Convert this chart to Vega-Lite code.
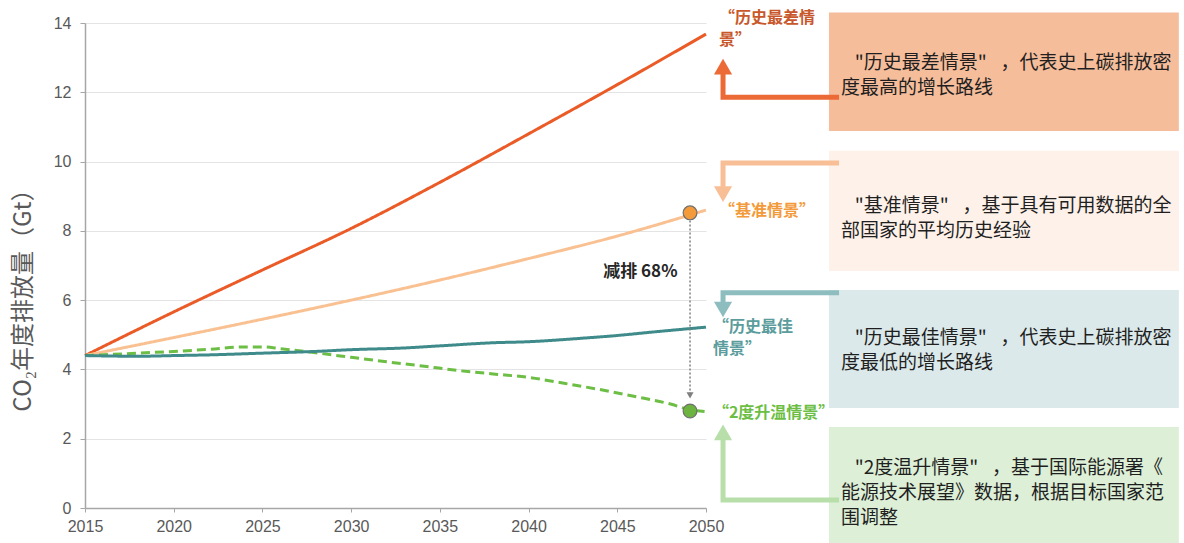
{
  "$schema": "https://vega.github.io/schema/vega-lite/v6.json",
  "width": 621,
  "height": 485,
  "autosize": {"type": "none"},
  "padding": {"left": 85, "top": 23, "right": 478, "bottom": 35},
  "background": "white",
  "config": {"view": {"stroke": null}, "font": "Noto Sans CJK SC"},
  "datasets": {
    "series": [
      {"scenario": "历史最差情景", "year": 2015, "value": 4.4},
      {"scenario": "历史最差情景", "year": 2020, "value": 5.66},
      {"scenario": "历史最差情景", "year": 2025, "value": 6.87},
      {"scenario": "历史最差情景", "year": 2030, "value": 8.07},
      {"scenario": "历史最差情景", "year": 2035, "value": 9.4},
      {"scenario": "历史最差情景", "year": 2040, "value": 10.8},
      {"scenario": "历史最差情景", "year": 2045, "value": 12.22},
      {"scenario": "历史最差情景", "year": 2050, "value": 13.68},
      {"scenario": "基准情景", "year": 2015, "value": 4.4},
      {"scenario": "基准情景", "year": 2020, "value": 4.92},
      {"scenario": "基准情景", "year": 2025, "value": 5.45},
      {"scenario": "基准情景", "year": 2030, "value": 6.0},
      {"scenario": "基准情景", "year": 2035, "value": 6.58},
      {"scenario": "基准情景", "year": 2040, "value": 7.2},
      {"scenario": "基准情景", "year": 2045, "value": 7.85},
      {"scenario": "基准情景", "year": 2050, "value": 8.6},
      {"scenario": "2度升温情景", "year": 2015, "value": 4.4},
      {"scenario": "2度升温情景", "year": 2018, "value": 4.47},
      {"scenario": "2度升温情景", "year": 2020, "value": 4.52},
      {"scenario": "2度升温情景", "year": 2022, "value": 4.58},
      {"scenario": "2度升温情景", "year": 2024, "value": 4.65},
      {"scenario": "2度升温情景", "year": 2025, "value": 4.65},
      {"scenario": "2度升温情景", "year": 2026, "value": 4.6},
      {"scenario": "2度升温情景", "year": 2028, "value": 4.48},
      {"scenario": "2度升温情景", "year": 2030, "value": 4.35},
      {"scenario": "2度升温情景", "year": 2032, "value": 4.22},
      {"scenario": "2度升温情景", "year": 2034, "value": 4.1},
      {"scenario": "2度升温情景", "year": 2036, "value": 3.97},
      {"scenario": "2度升温情景", "year": 2038, "value": 3.87},
      {"scenario": "2度升温情景", "year": 2040, "value": 3.77},
      {"scenario": "2度升温情景", "year": 2042, "value": 3.6},
      {"scenario": "2度升温情景", "year": 2044, "value": 3.42},
      {"scenario": "2度升温情景", "year": 2046, "value": 3.22},
      {"scenario": "2度升温情景", "year": 2048, "value": 3.0},
      {"scenario": "2度升温情景", "year": 2049, "value": 2.85},
      {"scenario": "2度升温情景", "year": 2050, "value": 2.78},
      {"scenario": "历史最佳情景", "year": 2015, "value": 4.4},
      {"scenario": "历史最佳情景", "year": 2018, "value": 4.38},
      {"scenario": "历史最佳情景", "year": 2020, "value": 4.4},
      {"scenario": "历史最佳情景", "year": 2022, "value": 4.42},
      {"scenario": "历史最佳情景", "year": 2025, "value": 4.47},
      {"scenario": "历史最佳情景", "year": 2028, "value": 4.52},
      {"scenario": "历史最佳情景", "year": 2030, "value": 4.57},
      {"scenario": "历史最佳情景", "year": 2033, "value": 4.62},
      {"scenario": "历史最佳情景", "year": 2035, "value": 4.68},
      {"scenario": "历史最佳情景", "year": 2038, "value": 4.77},
      {"scenario": "历史最佳情景", "year": 2040, "value": 4.8},
      {"scenario": "历史最佳情景", "year": 2043, "value": 4.9},
      {"scenario": "历史最佳情景", "year": 2045, "value": 4.98},
      {"scenario": "历史最佳情景", "year": 2047, "value": 5.08},
      {"scenario": "历史最佳情景", "year": 2050, "value": 5.22}
    ],
    "boxes": [
      {"id": "b1", "x1": 2056.93, "x2": 2076.65, "y1": 14.30, "y2": 10.88, "fill": "#F6BD9B"},
      {"id": "b2", "x1": 2056.93, "x2": 2076.65, "y1": 10.31, "y2": 6.84, "fill": "#FDF1E9"},
      {"id": "b3", "x1": 2056.93, "x2": 2076.65, "y1": 6.29, "y2": 2.89, "fill": "#DCE9EA"},
      {"id": "b4", "x1": 2056.93, "x2": 2076.65, "y1": 2.34, "y2": -1.01, "fill": "#DDEFD6"}
    ],
    "arrows": [
      {"id": "a1", "ord": 1, "x": 2057.5, "y": 11.86, "c": "#EC6A35"},
      {"id": "a1", "ord": 2, "x": 2050.96, "y": 11.86, "c": "#EC6A35"},
      {"id": "a1", "ord": 3, "x": 2050.96, "y": 12.6, "c": "#EC6A35"},
      {"id": "a2", "ord": 1, "x": 2057.5, "y": 9.96, "c": "#F8BE96"},
      {"id": "a2", "ord": 2, "x": 2050.96, "y": 9.96, "c": "#F8BE96"},
      {"id": "a2", "ord": 3, "x": 2050.96, "y": 9.2, "c": "#F8BE96"},
      {"id": "a3", "ord": 1, "x": 2057.5, "y": 6.21, "c": "#8DBDBF"},
      {"id": "a3", "ord": 2, "x": 2050.96, "y": 6.21, "c": "#8DBDBF"},
      {"id": "a3", "ord": 3, "x": 2050.96, "y": 5.85, "c": "#8DBDBF"},
      {"id": "a4", "ord": 1, "x": 2057.5, "y": 0.23, "c": "#B8DFAA"},
      {"id": "a4", "ord": 2, "x": 2050.96, "y": 0.23, "c": "#B8DFAA"},
      {"id": "a4", "ord": 3, "x": 2050.96, "y": 2.0, "c": "#B8DFAA"}
    ],
    "heads": [
      {"id": "a1", "x": 2050.96, "y": 12.74, "shape": "triangle-up", "c": "#EC6A35"},
      {"id": "a2", "x": 2050.96, "y": 9.06, "shape": "triangle-down", "c": "#F8BE96"},
      {"id": "a3", "x": 2050.96, "y": 5.73, "shape": "triangle-down", "c": "#8DBDBF"},
      {"id": "a4", "x": 2050.96, "y": 2.18, "shape": "triangle-up", "c": "#B8DFAA"}
    ],
    "reduction": [
      {"year": 2049.1, "from": 8.3, "to": 3.25, "label": "减排 68%", "labelYear": 2046.3, "labelValue": 6.81}
    ],
    "markers": [
      {"scenario": "基准情景", "year": 2049.1, "value": 8.52, "fill": "#F39A3A"},
      {"scenario": "2度升温情景", "year": 2049.1, "value": 2.8, "fill": "#6DB33F"}
    ],
    "lineLabels": [
      {"text": "“历史最差情\n景”", "x": 2050.73, "y": 14.14, "c": "#C8582B"},
      {"text": "“基准情景”", "x": 2050.73, "y": 8.57, "c": "#F39A3A"},
      {"text": "“历史最佳\n情景”", "x": 2050.39, "y": 5.22, "c": "#5B9C9C"},
      {"text": "“2度升温情景”", "x": 2050.39, "y": 2.74, "c": "#6DBE45"}
    ],
    "boxTexts": [
      {"text": "\u200b\u2002\u00a0\"历史最差情景\"\u2002\u00a0，代表史上碳排放密\n度最高的增长路线", "x": 2057.61, "y": 12.85},
      {"text": "\u200b\u2002\u00a0\"基准情景\"\u2002\u00a0，基于具有可用数据的全\n部国家的平均历史经验", "x": 2057.61, "y": 8.72},
      {"text": "\u200b\u2002\u00a0\"历史最佳情景\"\u2002\u00a0，代表史上碳排放密\n度最低的增长路线", "x": 2057.61, "y": 4.91},
      {"text": "\u200b\u2002\u00a0\"2度温升情景\"\u2002\u00a0，基于国际能源署《\n能源技术展望》数据，根据目标国家范\n围调整", "x": 2057.61, "y": 1.15}
    ]
  },
  "layer": [
    {
      "data": {"name": "series"},
      "mark": {"type": "line", "strokeWidth": 3, "interpolate": "monotone", "clip": false},
      "encoding": {
        "x": {
          "field": "year", "type": "quantitative",
          "scale": {"domain": [2015, 2050], "nice": false, "zero": false},
          "axis": {
            "title": null, "values": [2015, 2020, 2025, 2030, 2035, 2040, 2045, 2050],
            "format": "d", "grid": false, "labelFont": "Liberation Sans", "labelFontSize": 16,
            "labelColor": "#595959", "labelPadding": 6, "tickSize": 4, "tickColor": "#A6A6A6",
            "domainColor": "#A6A6A6", "domainWidth": 1.5, "labelFlush": false
          }
        },
        "y": {
          "field": "value", "type": "quantitative",
          "scale": {"domain": [0, 14], "nice": false},
          "axis": {
            "title": "CO₂年度排放量（Gt）", "values": [0, 2, 4, 6, 8, 10, 12, 14],
            "titleFont": "Noto Sans CJK SC", "titleFontSize": 24, "titleFontWeight": "normal",
            "titleColor": "#595959", "titleX": -62, "titleY": 271, "titleAlign": "center",
            "titleBaseline": "middle", "titleAngle": -90,
            "labelFont": "Liberation Sans", "labelFontSize": 16, "labelColor": "#595959",
            "labelPadding": 9, "tickSize": 5, "tickColor": "#A6A6A6",
            "domainColor": "#A6A6A6", "domainWidth": 1.5,
            "grid": true, "gridColor": "#E4E4E4", "gridWidth": 1
          }
        },
        "color": {
          "field": "scenario", "type": "nominal", "legend": null,
          "scale": {
            "domain": ["历史最差情景", "基准情景", "2度升温情景", "历史最佳情景"],
            "range": ["#EB5B27", "#F9C192", "#6DBE45", "#3F8A8A"]
          }
        },
        "strokeDash": {
          "field": "scenario", "type": "nominal", "legend": null,
          "scale": {
            "domain": ["历史最差情景", "基准情景", "2度升温情景", "历史最佳情景"],
            "range": [[1, 0], [1, 0], [9, 5], [1, 0]]
          }
        },
        "order": {"field": "year", "type": "quantitative"}
      }
    },
    {
      "data": {"name": "boxes"},
      "mark": {"type": "rect", "clip": false},
      "encoding": {
        "x": {"field": "x1", "type": "quantitative"},
        "x2": {"field": "x2"},
        "y": {"field": "y1", "type": "quantitative"},
        "y2": {"field": "y2"},
        "fill": {"field": "fill", "type": "nominal", "scale": null, "legend": null}
      }
    },
    {
      "data": {"name": "arrows"},
      "mark": {"type": "line", "strokeWidth": 5, "strokeCap": "butt", "strokeJoin": "miter", "clip": false},
      "encoding": {
        "x": {"field": "x", "type": "quantitative"},
        "y": {"field": "y", "type": "quantitative"},
        "detail": {"field": "id"},
        "order": {"field": "ord", "type": "quantitative"},
        "stroke": {"field": "c", "type": "nominal", "scale": null, "legend": null}
      }
    },
    {
      "data": {"name": "heads"},
      "mark": {"type": "point", "filled": true, "opacity": 1, "size": 330, "clip": false},
      "encoding": {
        "x": {"field": "x", "type": "quantitative"},
        "y": {"field": "y", "type": "quantitative"},
        "shape": {"field": "shape", "type": "nominal", "scale": null, "legend": null},
        "fill": {"field": "c", "type": "nominal", "scale": null, "legend": null}
      }
    },
    {
      "data": {"name": "reduction"},
      "mark": {"type": "rule", "color": "#7F7F7F", "strokeWidth": 1.5, "strokeDash": [2, 2], "clip": false},
      "encoding": {
        "x": {"field": "year", "type": "quantitative"},
        "y": {"field": "from", "type": "quantitative"},
        "y2": {"field": "to"}
      }
    },
    {
      "data": {"name": "reduction"},
      "mark": {"type": "point", "shape": "triangle-down", "filled": true, "opacity": 1, "color": "#7F7F7F", "size": 50, "clip": false},
      "encoding": {
        "x": {"field": "year", "type": "quantitative"},
        "y": {"field": "to", "type": "quantitative"}
      }
    },
    {
      "data": {"name": "reduction"},
      "mark": {"type": "text", "font": "Noto Sans CJK SC", "fontWeight": "bold", "fontSize": 17, "color": "#262626", "align": "center", "baseline": "middle", "clip": false},
      "encoding": {
        "x": {"field": "labelYear", "type": "quantitative"},
        "y": {"field": "labelValue", "type": "quantitative"},
        "text": {"field": "label"}
      }
    },
    {
      "data": {"name": "markers"},
      "mark": {"type": "point", "shape": "circle", "filled": true, "opacity": 1, "size": 190, "stroke": "#6F6F6F", "strokeWidth": 1.2, "clip": false},
      "encoding": {
        "x": {"field": "year", "type": "quantitative"},
        "y": {"field": "value", "type": "quantitative"},
        "fill": {"field": "fill", "type": "nominal", "scale": null, "legend": null}
      }
    },
    {
      "data": {"name": "lineLabels"},
      "mark": {"type": "text", "font": "Noto Sans CJK SC", "fontWeight": "bold", "fontSize": 16, "align": "left", "baseline": "middle", "lineBreak": "\n", "lineHeight": 22, "clip": false},
      "encoding": {
        "x": {"field": "x", "type": "quantitative"},
        "y": {"field": "y", "type": "quantitative"},
        "text": {"field": "text"},
        "color": {"field": "c", "type": "nominal", "scale": null, "legend": null}
      }
    },
    {
      "data": {"name": "boxTexts"},
      "mark": {"type": "text", "font": "Noto Sans CJK SC", "fontSize": 19, "color": "#1F1F1F", "align": "left", "baseline": "middle", "lineBreak": "\n", "lineHeight": 25, "clip": false},
      "encoding": {
        "x": {"field": "x", "type": "quantitative"},
        "y": {"field": "y", "type": "quantitative"},
        "text": {"field": "text"}
      }
    }
  ]
}
